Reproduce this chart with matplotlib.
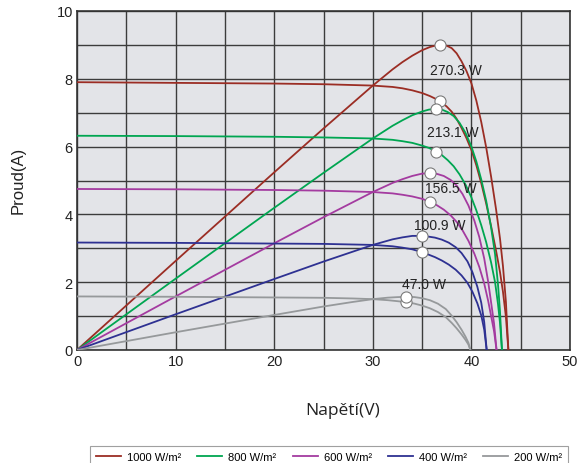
import numpy as np
import matplotlib
matplotlib.use('Agg')
import matplotlib.pyplot as plt
from matplotlib.lines import Line2D

params = {'font.family': 'Liberation Sans',
          'font.size': 10,
          'axes.linewidth': 1.2,
          'axes.edgecolor': '#333333',
          'xtick.labelsize': 10.5,
          'ytick.labelsize': 10.5,
          'xtick.color': '#222222',
          'ytick.color': '#222222',
          }
plt.rcParams.update(params)

### DATA ###
# I-V krivky pro ruzne ozareni
labels = ['1000 W/m²', '800 W/m²', '600 W/m²', '400 W/m²', '200 W/m²']
colors = ['#9B2D24', '#00A651', '#A43BA0', '#2E3192', '#96999B']

v_1000 = [0, 10, 20, 25, 30, 32, 33, 34, 35, 35.8, 36.8, 37.5, 38.0, 38.5, 39.0, 39.5, 40.0, 40.5,
          41.0, 41.5, 42.0, 42.5, 42.9, 43.2, 43.5, 43.75]
i_1000 = [7.90, 7.88, 7.86, 7.84, 7.80, 7.76, 7.72, 7.66, 7.58, 7.49, 7.35, 7.18, 7.03, 6.82, 6.55,
          6.25, 5.90, 5.45, 4.92, 4.32, 3.65, 2.93, 2.30, 1.72, 0.98, 0.0]

v_800 = [0, 10, 20, 25, 30, 32, 33, 34, 35, 35.7, 36.4, 37.0, 37.6, 38.2, 38.8, 39.4, 40.0, 40.5,
         41.0, 41.5, 42.0, 42.4, 42.7, 42.9, 43.1]
i_800 = [6.32, 6.31, 6.29, 6.27, 6.24, 6.20, 6.16, 6.11, 6.03, 5.96, 5.86, 5.75, 5.60, 5.42, 5.18,
         4.88, 4.50, 4.12, 3.68, 3.18, 2.58, 2.00, 1.35, 0.80, 0.0]

v_600 = [0, 10, 20, 25, 30, 32, 33, 34, 35, 35.8, 36.5, 37.2, 37.9, 38.5, 39.1, 39.7, 40.3, 40.8,
         41.3, 41.7, 42.0, 42.3, 42.55]
i_600 = [4.75, 4.74, 4.72, 4.70, 4.66, 4.62, 4.58, 4.53, 4.46, 4.37, 4.27, 4.14, 3.97, 3.78, 3.53,
         3.22, 2.84, 2.45, 1.96, 1.45, 1.00, 0.55, 0.0]

v_400 = [0, 10, 20, 25, 30, 32, 33, 34, 34.95, 35.6, 36.3, 37.0, 37.7, 38.4, 39.0, 39.6, 40.1, 40.6,
         41.0, 41.3, 41.55]
i_400 = [3.17, 3.16, 3.14, 3.13, 3.10, 3.06, 3.02, 2.97, 2.89, 2.82, 2.74, 2.64, 2.52, 2.37, 2.20,
         1.98, 1.72, 1.38, 1.02, 0.60, 0.0]

v_200 = [0, 10, 20, 25, 28, 30, 31.5, 32.5, 33.4, 34.2, 35.0, 35.8, 36.6, 37.4, 38.0, 38.5, 39.0,
         39.4, 39.7, 39.9]
i_200 = [1.58, 1.57, 1.55, 1.54, 1.52, 1.50, 1.47, 1.44, 1.41, 1.37, 1.31, 1.23, 1.12, 0.97, 0.80,
         0.64, 0.46, 0.30, 0.16, 0.0]

# body maximalniho vykonu
v_mpp = [36.8, 36.4, 35.8, 34.95, 33.4]
p_mpp = [270.3, 213.1, 156.5, 100.9, 47.0]

p_scale = 30.0  # vykon je vykreslen jako P/30 na stejne ose

### PLOT ###
fig = plt.figure(figsize=(5.77, 4.64), dpi=100)
ax = fig.add_axes([77/577, 1-351/464, 493/577, 339/464])
ax.set_facecolor('#E3E4E8')

curves = [(v_1000, i_1000), (v_800, i_800), (v_600, i_600), (v_400, i_400), (v_200, i_200)]
for (v, i), c in zip(curves, colors):
    v = np.array(v)
    i = np.array(i)
    ax.plot(v, i, color=c, lw=1.3, zorder=3)
    ax.plot(v, v*i/p_scale, color=c, lw=1.3, zorder=3)

for vm, pm in zip(v_mpp, p_mpp):
    ax.plot([vm, vm], [pm/vm, pm/p_scale], 'o', ms=8, mfc='white', mec='#7a7a7a', mew=0.8, zorder=5)

# popisky vykonu
lab_xy = [(38.4, 8.26), (38.1, 6.44), (37.9, 4.77), (36.8, 3.69), (35.2, 1.95)]
for (x, y), pm in zip(lab_xy, p_mpp):
    ax.text(x, y, '%.1f W' % pm, ha='center', va='center', fontsize=10, color='#222222', zorder=6)

ax.set_xlim(0, 50)
ax.set_ylim(0, 10)
ax.set_xticks(np.arange(0, 51, 10))
ax.set_yticks(np.arange(0, 11, 2))
ax.set_xticks(np.arange(0, 51, 5), minor=True)
ax.set_yticks(np.arange(0, 11, 1), minor=True)
ax.grid(True, which='both', color='#3c3c3c', lw=1.0, zorder=1)
ax.set_axisbelow(True)
ax.tick_params(which='both', length=0, pad=3)

fig.text(18/577, 1-180/464, 'Proud(A)', rotation=90, ha='center', va='center', fontsize=12, color='#222222')
fig.text(343/577, 1-411/464, 'Napětí(V)', ha='center', va='center', fontsize=12.5, color='#222222', family='Open Sans')

handles = [Line2D([0], [0], color=c, lw=1.3) for c in colors]
lgd = fig.legend(handles, labels, loc='upper left', bbox_to_anchor=(90/577, 0.0, 478/577, 1-447/464),
                 mode='expand', ncol=5, fontsize=8, frameon=True, fancybox=False,
                 edgecolor='#888888', handlelength=2.25, handletextpad=0.55, borderpad=0.5,
                 borderaxespad=0.0, columnspacing=1.0)
lgd.get_frame().set_linewidth(0.8)

plt.savefig('out.png', dpi=100)
